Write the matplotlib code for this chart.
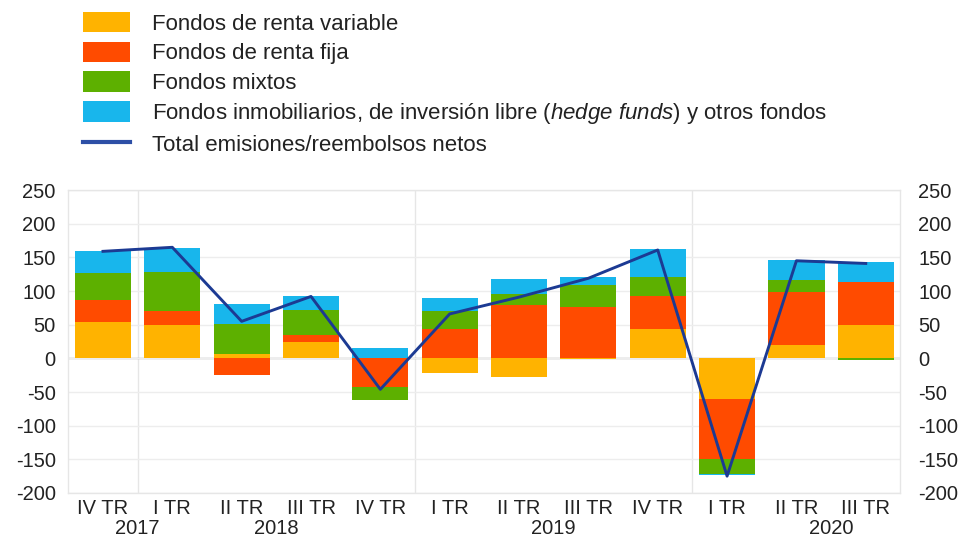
import matplotlib
matplotlib.use("Agg")
import matplotlib.pyplot as plt
import numpy as np
from matplotlib.patches import Patch
from matplotlib.lines import Line2D

plt.rcParams['font.family'] = ['Liberation Sans', 'DejaVu Sans']
plt.rcParams['mathtext.fontset'] = 'custom'
plt.rcParams['mathtext.it'] = 'Liberation Sans:italic'
plt.rcParams['mathtext.rm'] = 'Liberation Sans'
plt.rcParams['axes.unicode_minus'] = False

# data (mm euros)
quarters = ["IV TR", "I TR", "II TR", "III TR", "IV TR", "I TR",
            "II TR", "III TR", "IV TR", "I TR", "II TR", "III TR"]
years = ["2017", "2018", "2019", "2020"]
year_pos = [0.5, 2.5, 6.5, 10.5]
year_breaks = [0.5, 4.5, 8.5]

renta_variable = [54, 50, 7, 25, 0, -22, -27, -1, 43, -60, 20, 50]
renta_fija = [33, 20, -25, 10, -42, 43, 80, 76, 50, -89, 78, 63]
mixtos = [40, 58, 44, 37, -20, 27, 15, 33, 28, -23, 18, -2]
otros = [33, 36, 30, 21, 15, 19, 23, 12, 41, -2, 30, 30]
total = [159, 165, 55, 92, -46, 66, 91, 119, 161, -175, 145, 141]

series = [renta_variable, renta_fija, mixtos, otros]
colors = ['#FFB300', '#FF4B00', '#5DB000', '#18B6EC']
labels = ["Fondos de renta variable",
          "Fondos de renta fija",
          "Fondos mixtos",
          r"Fondos inmobiliarios, de inversión libre $\it{(hedge\ funds)}$ y otros fondos"]
line_color = '#1C3A93'
txt_color = '#222222'

fig = plt.figure(figsize=(9.62, 5.37), dpi=100)
ax = fig.add_axes([0.071, 0.082, 0.865, 0.564])

x = np.arange(len(quarters))
pos_base = np.zeros(len(x))
neg_base = np.zeros(len(x))
for vals, c in zip(series, colors):
    v = np.array(vals, dtype=float)
    pos = np.where(v > 0, v, 0)
    neg = np.where(v < 0, v, 0)
    ax.bar(x, pos, bottom=pos_base, width=0.81, color=c, zorder=2)
    ax.bar(x, neg, bottom=neg_base, width=0.81, color=c, zorder=2)
    pos_base += pos
    neg_base += neg

ax.plot(x, total, color=line_color, lw=2.1, zorder=3)

ax.set_ylim(-200, 250)
ax.set_xlim(-0.5, len(x) - 0.5)
ax.set_yticks(np.arange(-200, 251, 50))
ax.yaxis.grid(True, color='#EDEDED', lw=1, zorder=0)
ax.axhline(0, color='#A8A8A8', lw=1, zorder=1)
for b in year_breaks:
    ax.axvline(b, color='#E6E6E6', lw=1, zorder=0)

for s in ax.spines.values():
    s.set_color('#E6E6E6')
    s.set_linewidth(1)

ax.tick_params(axis='y', length=0, pad=9, labelsize=14.5, labelcolor=txt_color)
ax.set_xticks(x)
ax.set_xticklabels(quarters)
ax.tick_params(axis='x', length=0, pad=4, labelsize=14.5, labelcolor=txt_color)

# right-hand axis with the same scale
ax2 = ax.twinx()
ax2.set_ylim(ax.get_ylim())
ax2.set_yticks(np.arange(-200, 251, 50))
ax2.tick_params(axis='y', length=0, pad=13, labelsize=14.5, labelcolor=txt_color)
for s in ax2.spines.values():
    s.set_visible(False)

for yr, p in zip(years, year_pos):
    ax.text(p, -0.117, yr, transform=ax.get_xaxis_transform(), ha='center',
            va='center', fontsize=14.5, color=txt_color)

handles = [Patch(facecolor=c, edgecolor='none') for c in colors]
handles.append(Line2D([0], [0], color='#2D4FA6', lw=3))
fig.legend(handles, labels + ["Total emisiones/reembolsos netos"],
           loc='upper left', bbox_to_anchor=(0.0863, 0.978), frameon=False,
           fontsize=16, handlelength=2.1, handleheight=1.05,
           handletextpad=1.0, labelspacing=0.31, borderaxespad=0, borderpad=0,
           labelcolor=txt_color)

fig.savefig("out.png", dpi=100)
